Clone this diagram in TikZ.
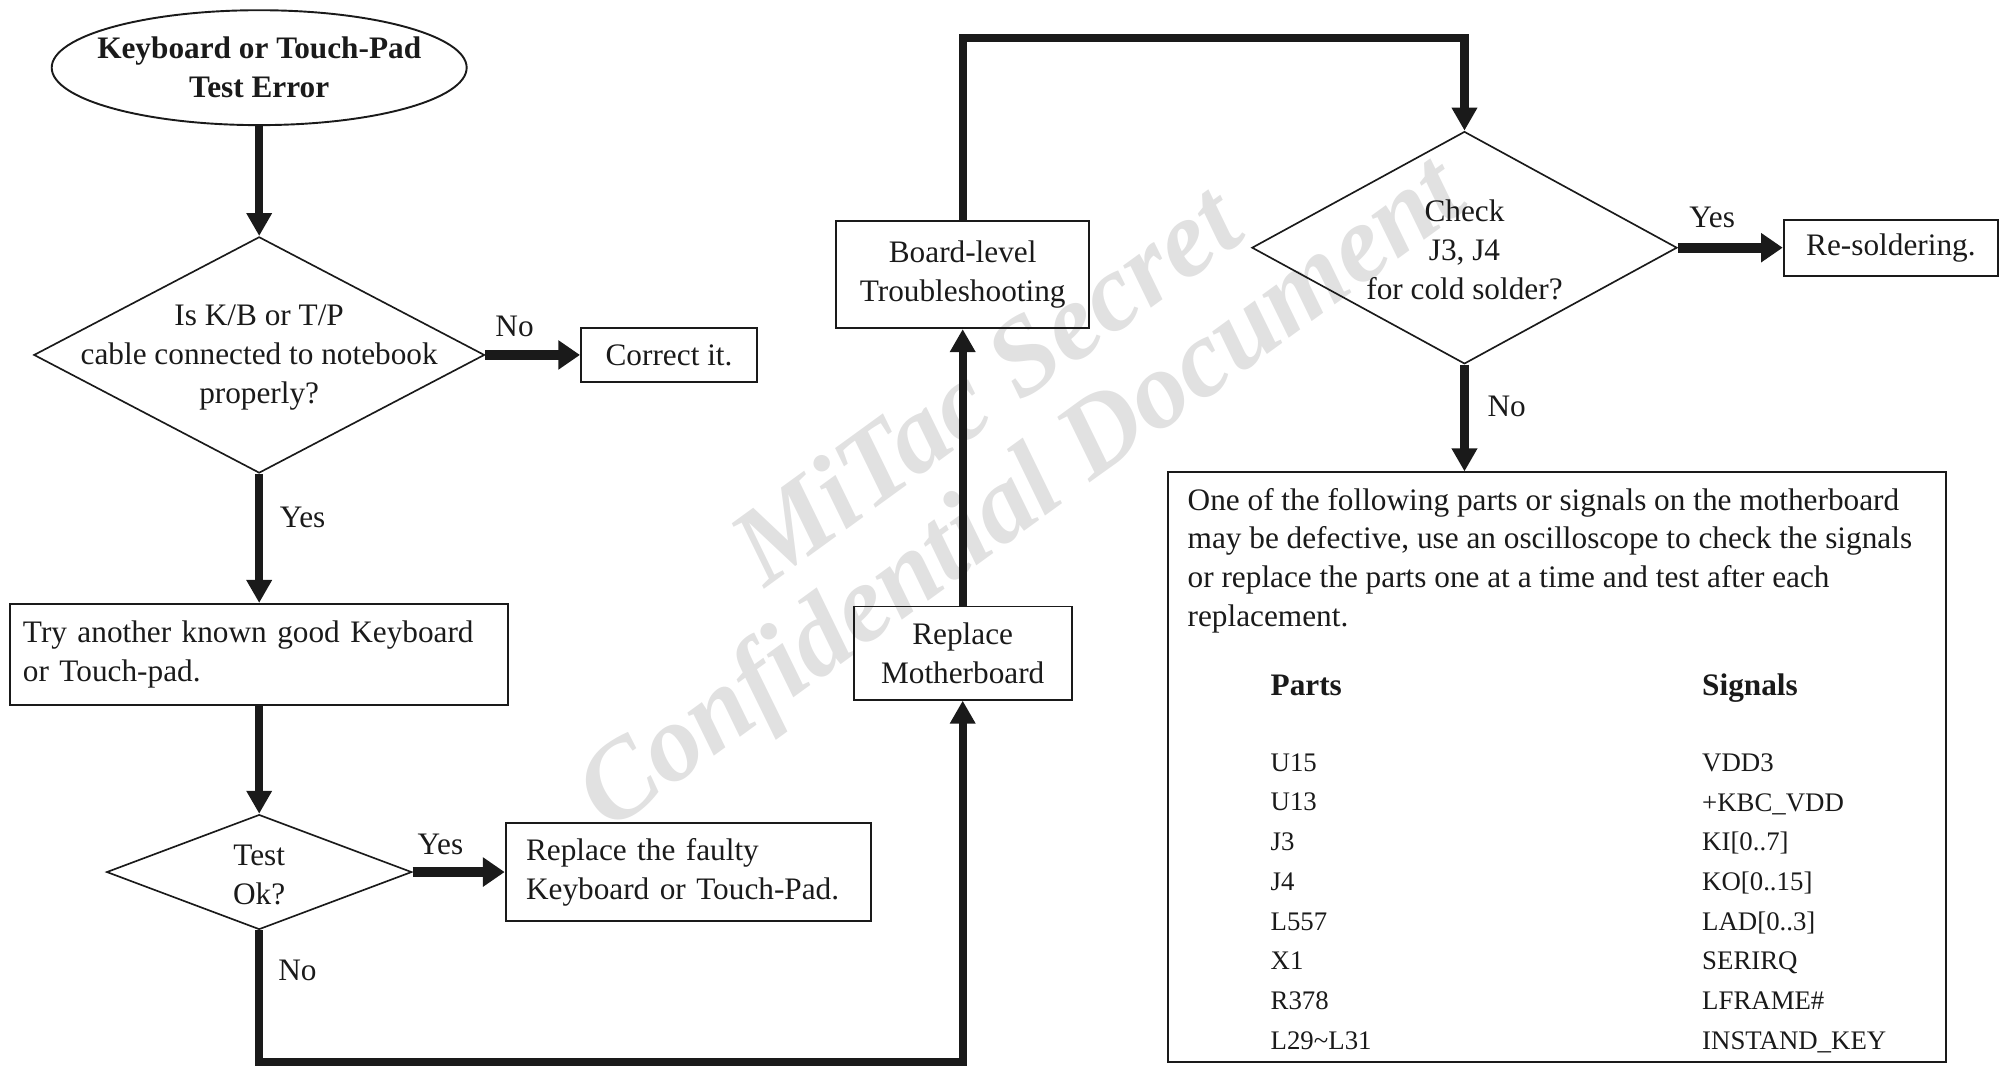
\documentclass[tikz,border=0pt]{standalone}
\usepackage{fontspec}
\setmainfont{Liberation Serif}
\usetikzlibrary{arrows.meta,shapes.geometric}
\definecolor{ink}{RGB}{26,26,26}
\definecolor{wmgray}{RGB}{225,225,225}
\begin{document}
\begin{tikzpicture}[x=1pt,y=-1pt,
  every node/.style={font=\fontsize{24.5}{30.5}\selectfont, inner sep=0pt, text=ink},
  box/.style={draw=ink, line width=1.5pt, align=center},
  dia/.style={draw=ink, diamond, line width=1.3pt},
  conn/.style={draw=ink, line width=6.5pt, -{Triangle[length=18pt,width=19pt]}},
  hconn/.style={draw=ink, line width=8pt, -{Triangle[length=17pt,width=22pt]}},
  wm/.style={font=\bfseries\itshape\fontsize{86}{86}\selectfont, text=wmgray, rotate=36}
]
\useasboundingbox (0,0) rectangle (1568,840);

% watermark
\node[wm] (wm1) at (771,300) {MiTac Secret};
\node[wm] (wm2) at (802,390) {Confidential Document};

% nodes
\node[ellipse, draw=ink, line width=1.5pt, inner xsep=-13pt, inner ysep=5pt,
      minimum width=325, minimum height=90, align=center,
      font=\bfseries\fontsize{24.5}{30.5}\selectfont] (start) at (203,53)
      {Keyboard or Touch-Pad\\Test Error};

\node[dia, minimum width=353, minimum height=185] (d1) at (203,278) {};
\node[align=center] (d1t) at (203,280) {Is K/B or T/P\\cable connected to notebook\\properly?};

\node[box, minimum width=138, minimum height=42] (cor) at (524,278) {Correct it.};
\node (no1) at (403,256) {No};
\node (yes1) at (237,405) {Yes};

\node[box, minimum width=390, minimum height=79, text width=370, align=left] (try) at (203,512.5)
      {Try another known good Keyboard\\or Touch-pad.};

\node[dia, minimum width=239, minimum height=90] (d2) at (203,683) {};
\node[align=center] (d2t) at (203,685) {Test\\Ok?};
\node (yes2) at (345,661) {Yes};

\node[box, minimum width=286, minimum height=77, text width=254, align=left] (rkb) at (539,683)
      {Replace the faulty\\Keyboard or Touch-Pad.};
\node (no2) at (233,760) {No};

\node[box, minimum width=171, minimum height=73] (rmb) at (754,511.5) {Replace\\Motherboard};
\node[box, minimum width=198, minimum height=84] (board) at (754,215) {Board-level\\Troubleshooting};

\node[dia, minimum width=333, minimum height=182] (d3) at (1147,194) {};
\node[align=center] (d3t) at (1147,196) {Check\\J3, J4\\for cold solder?};
\node (yes3) at (1341,170) {Yes};
\node[box, minimum width=168, minimum height=44] (res) at (1481,194) {Re-soldering.};
\node (no3) at (1180,318) {No};

\node[box, minimum width=609, minimum height=462] (big) at (1219.5,601) {};
\node[anchor=north west, align=left] (para) at (930,382)
  {One of the following parts or signals on the motherboard\\
   may be defective, use an oscilloscope to check the signals\\
   or replace the parts one at a time and test after each\\
   replacement.};
\node[anchor=base west, font=\bfseries\fontsize{24.5}{30.5}\selectfont] (ph) at (995,545) {Parts};
\node[anchor=base west, font=\bfseries\fontsize{24.5}{30.5}\selectfont] (sh) at (1333,545) {Signals};
\node[anchor=north west, align=left, font=\fontsize{21}{31.1}\selectfont] (pcol) at (995,590)
  {U15\\U13\\J3\\J4\\L557\\X1\\R378\\L29\textasciitilde L31};
\node[anchor=north west, align=left, font=\fontsize{21}{31.1}\selectfont] (scol) at (1333,590)
  {VDD3\\+KBC\_VDD\\KI[0..7]\\KO[0..15]\\LAD[0..3]\\SERIRQ\\LFRAME\#\\INSTAND\_KEY};

% connectors
\coordinate (cb) at (754,832);
\coordinate (ct) at (754,30);
\draw[conn] (start.south) -- (d1.north);
\draw[hconn] (d1.east) -- (cor.west);
\draw[conn] (d1.south) -- (try.north);
\draw[conn] (try.south) -- (d2.north);
\draw[hconn] (d2.east) -- (rkb.west);
\draw[conn] (d2.south) |- (cb) -- (rmb.south);
\draw[conn] (rmb.north) -- (board.south);
\draw[conn] (board.north) -- (ct) -| (d3.north);
\draw[hconn] (d3.east) -- (res.west);
\draw[conn] (d3.south) -- (d3.south |- big.north);
\end{tikzpicture}
\end{document}
